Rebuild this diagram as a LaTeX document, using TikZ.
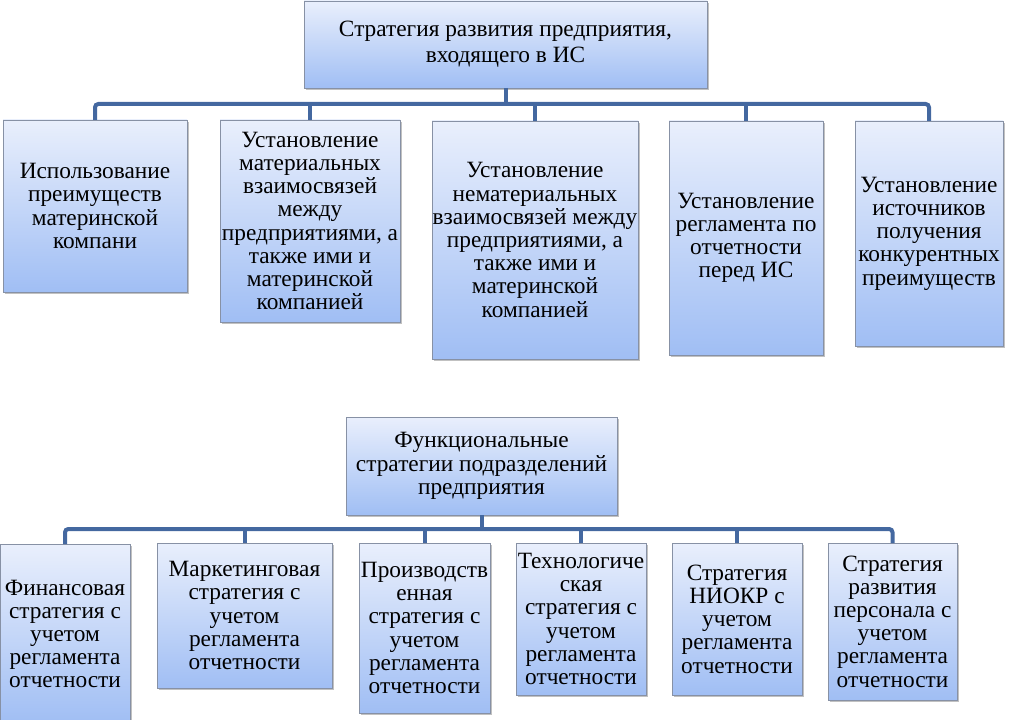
\documentclass[tikz,border=0pt]{standalone}
\usepackage{fontspec}
\setmainfont{Liberation Serif}
\usetikzlibrary{shadows}
\definecolor{conncol}{RGB}{68,104,160}
\definecolor{boxtop}{RGB}{233,239,252}
\definecolor{boxbot}{RGB}{160,190,244}
\definecolor{boxline}{RGB}{135,145,165}
\begin{document}
\begin{tikzpicture}[x=0.75pt,y=-0.75pt,
  orgbox/.style={draw=boxline, line width=0.6pt, top color=boxtop, bottom color=boxbot,
    rectangle, inner sep=0pt, outer sep=0pt, align=center,
    font=\fontsize{17.5}{17.4}\selectfont,
    drop shadow={shadow xshift=1.6pt, shadow yshift=-1.8pt, opacity=0.35, fill=black!70}},
  conn/.style={draw=conncol, line width=3pt, rounded corners=2.5pt}]
\useasboundingbox (0,0) rectangle (1009,720);
\clip (0,0) rectangle (1009,720);
% top block
\node[orgbox, minimum width=302.25pt, minimum height=65.25pt, font=\fontsize{17.5}{19.3}\selectfont] (T) at (505.5,44.5)
  {Стратегия развития предприятия,\\входящего в ИС};
\node[orgbox, minimum width=138pt, minimum height=129pt] (A1) at (95,206)
  {Использование\\преимуществ\\материнской\\компани};
\node[orgbox, minimum width=135pt, minimum height=151.5pt] (A2) at (310,221)
  {Установление\\материальных\\взаимосвязей\\между\\предприятиями, а\\также ими и\\материнской\\компанией};
\node[orgbox, minimum width=154.5pt, minimum height=178.5pt] (A3) at (535,240)
  {Установление\\нематериальных\\взаимосвязей между\\предприятиями, а\\также ими и\\материнской\\компанией};
\node[orgbox, minimum width=115.5pt, minimum height=175.5pt] (A4) at (746,238)
  {Установление\\регламента по\\отчетности\\перед ИС};
\node[orgbox, minimum width=111pt, minimum height=168.75pt] (A5) at (929,233.5)
  {Установление\\источников\\получения\\конкурентных\\преимуществ};
\coordinate (barT) at (0,104);
\draw[conn] (T.south) -- (T.south |- barT);
\draw[conn] (A1.north) |- (barT -| A5.north) -- (A5.north);
\draw[conn] (A2.north) -- (A2.north |- barT);
\draw[conn] (A3.north) -- (A3.north |- barT);
\draw[conn] (A4.north) -- (A4.north |- barT);
% bottom block
\node[orgbox, minimum width=203.25pt, minimum height=73.5pt] (F) at (481.5,466)
  {Функциональные\\стратегии подразделений\\предприятия};
\node[orgbox, minimum width=97.5pt, minimum height=135pt] (B1) at (65,634)
  {Финансовая\\стратегия с\\учетом\\регламента\\отчетности};
\node[orgbox, minimum width=131.25pt, minimum height=108.75pt] (B2) at (244.5,615.5)
  {Маркетинговая\\стратегия с\\учетом\\регламента\\отчетности};
\node[orgbox, minimum width=98.25pt, minimum height=127.5pt] (B3) at (424.5,628)
  {Производств\\енная\\стратегия с\\учетом\\регламента\\отчетности};
\node[orgbox, minimum width=97.5pt, minimum height=114pt] (B4) at (581,619)
  {Технологиче\\ская\\стратегия с\\учетом\\регламента\\отчетности};
\node[orgbox, minimum width=97.5pt, minimum height=114pt] (B5) at (737,619)
  {Стратегия\\НИОКР с\\учетом\\регламента\\отчетности};
\node[orgbox, minimum width=96.75pt, minimum height=117.75pt] (B6) at (892.5,621.5)
  {Стратегия\\развития\\персонала с\\учетом\\регламента\\отчетности};
\coordinate (barB) at (0,529);
\draw[conn] (F.south) -- (F.south |- barB);
\draw[conn] (B1.north) |- (barB -| B6.north) -- (B6.north);
\draw[conn] (B2.north) -- (B2.north |- barB);
\draw[conn] (B3.north) -- (B3.north |- barB);
\draw[conn] (B4.north) -- (B4.north |- barB);
\draw[conn] (B5.north) -- (B5.north |- barB);
\end{tikzpicture}
\end{document}
